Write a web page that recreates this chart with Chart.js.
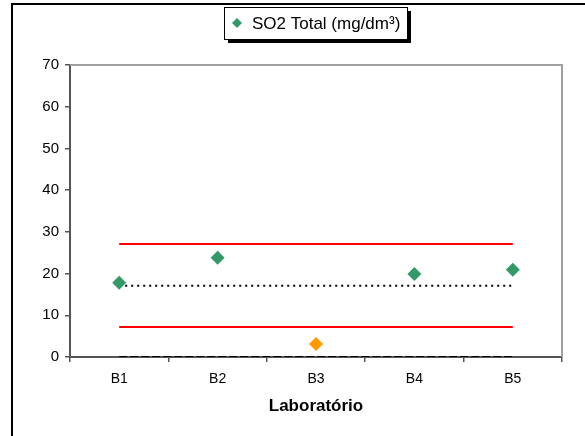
<!DOCTYPE html>
<html>
<head>
<meta charset="utf-8">
<script src="https://cdn.jsdelivr.net/npm/chart.js@4"></script>
<style>
  html, body { margin: 0; padding: 0; background: #fff; }
  #wrap { width: 585px; height: 436px; }
</style>
</head>
<body>
<div id="wrap"><canvas id="so2Chart" width="585" height="436"></canvas></div>
<script>
// Data
const labs = ['B1', 'B2', 'B3', 'B4', 'B5'];
const so2Values = [17.8, 23.8, 3.1, 19.9, 20.9];
const so2Colors = ['#339966', '#339966', '#FF9900', '#339966', '#339966'];
const upperLimit = [27.1, 27.1, 27.1, 27.1, 27.1];
const lowerLimit = [7.2, 7.2, 7.2, 7.2, 7.2];
const meanLine = [17.1, 17.1, 17.1, 17.1, 17.1];
const zeroLine = [0, 0, 0, 0, 0];
const yTicks = [0, 10, 20, 30, 40, 50, 60, 70];

const FONT = '"Liberation Sans", Arial, sans-serif';

// Outer frame, plot border and the boxed legend
const decorations = {
    id: 'decorations',
    beforeDraw(chart) {
        const ctx = chart.ctx;
        ctx.save();
        ctx.fillStyle = '#fff';
        ctx.fillRect(0, 0, chart.width, chart.height);
        ctx.strokeStyle = '#000';
        ctx.lineWidth = 2;
        ctx.beginPath();
        ctx.moveTo(12, chart.height);
        ctx.lineTo(12, 4);
        ctx.lineTo(chart.width, 4);
        ctx.stroke();
        ctx.restore();
    },
    beforeDatasetsDraw(chart) {
        const ctx = chart.ctx;
        const a = chart.chartArea;
        ctx.save();
        ctx.strokeStyle = '#a0a0a0';
        ctx.lineWidth = 2;
        ctx.beginPath();
        ctx.moveTo(a.left, a.top);
        ctx.lineTo(a.right, a.top);
        ctx.lineTo(a.right, a.bottom);
        ctx.stroke();
        ctx.restore();
    },
    afterDraw(chart) {
        const ctx = chart.ctx;
        const ds = chart.data.datasets[0];
        ctx.save();
        ctx.font = '17px ' + FONT;
        const textW = ctx.measureText(ds.label).width;
        const boxW = Math.round(textW + 35), boxH = 32;
        const x0 = Math.round(315 - boxW / 2), y0 = 7;
        // shadow
        ctx.fillStyle = '#000';
        ctx.fillRect(x0 + 4, y0 + 4, boxW, boxH);
        ctx.fillStyle = '#fff';
        ctx.fillRect(x0, y0, boxW, boxH);
        ctx.strokeStyle = '#000';
        ctx.lineWidth = 1;
        ctx.strokeRect(x0 + 0.5, y0 + 0.5, boxW, boxH);
        // marker
        const mx = x0 + 13, my = y0 + boxH / 2;
        ctx.fillStyle = '#339966';
        ctx.beginPath();
        ctx.moveTo(mx, my - 5);
        ctx.lineTo(mx + 5, my);
        ctx.lineTo(mx, my + 5);
        ctx.lineTo(mx - 5, my);
        ctx.closePath();
        ctx.fill();
        ctx.fillStyle = '#000';
        ctx.textBaseline = 'middle';
        ctx.fillText(ds.label, x0 + 28, my + 1);
        ctx.restore();
    }
};

const chart = new Chart(document.getElementById('so2Chart').getContext('2d'), {
    type: 'line',
    data: {
        labels: labs,
        datasets: [
            {
                label: 'SO2 Total (mg/dm³)',
                data: so2Values,
                showLine: false,
                pointStyle: 'rectRot',
                pointRadius: 7,
                pointBackgroundColor: so2Colors,
                pointBorderColor: so2Colors,
                pointBorderWidth: 0,
                order: 0
            },
            { label: 'upper', data: upperLimit, borderColor: '#ff0000', borderWidth: 2, pointRadius: 0, order: 1 },
            { label: 'lower', data: lowerLimit, borderColor: '#ff0000', borderWidth: 2, pointRadius: 0, order: 1 },
            { label: 'mean', data: meanLine, borderColor: '#000', borderWidth: 2, borderDash: [2, 4], pointRadius: 0, order: 1 },
            { label: 'zero', data: zeroLine, borderColor: '#000', borderWidth: 2, borderDash: [8, 3], pointRadius: 0, order: 1 }
        ]
    },
    options: {
        responsive: false,
        animation: false,
        layout: { padding: { left: 0, top: 65, right: 23, bottom: 0 } },
        plugins: {
            legend: { display: false },
            tooltip: { enabled: false }
        },
        scales: {
            x: {
                offset: true,
                grid: { offset: true, drawOnChartArea: false, drawTicks: true, tickLength: 5, color: '#555', lineWidth: 1.5 },
                border: { color: '#555', width: 2 },
                ticks: { color: '#000', font: { family: FONT, size: 14 }, padding: 9 },
                title: { display: true, text: 'Laboratório', color: '#000', font: { family: FONT, size: 17, weight: 'bold' }, padding: { top: 4, bottom: 19 } },
                afterFit(scale) { scale.height = 79; }
            },
            y: {
                min: 0,
                max: 70,
                afterBuildTicks(scale) { scale.ticks = yTicks.map(v => ({ value: v })); },
                grid: { drawOnChartArea: false, drawTicks: true, tickLength: 5, color: '#555', lineWidth: 1.5 },
                border: { color: '#555', width: 2 },
                ticks: { color: '#000', font: { family: FONT, size: 15 }, padding: 6 },
                afterFit(scale) { scale.width = 70; }
            }
        }
    },
    plugins: [decorations]
});
</script>
</body>
</html>
